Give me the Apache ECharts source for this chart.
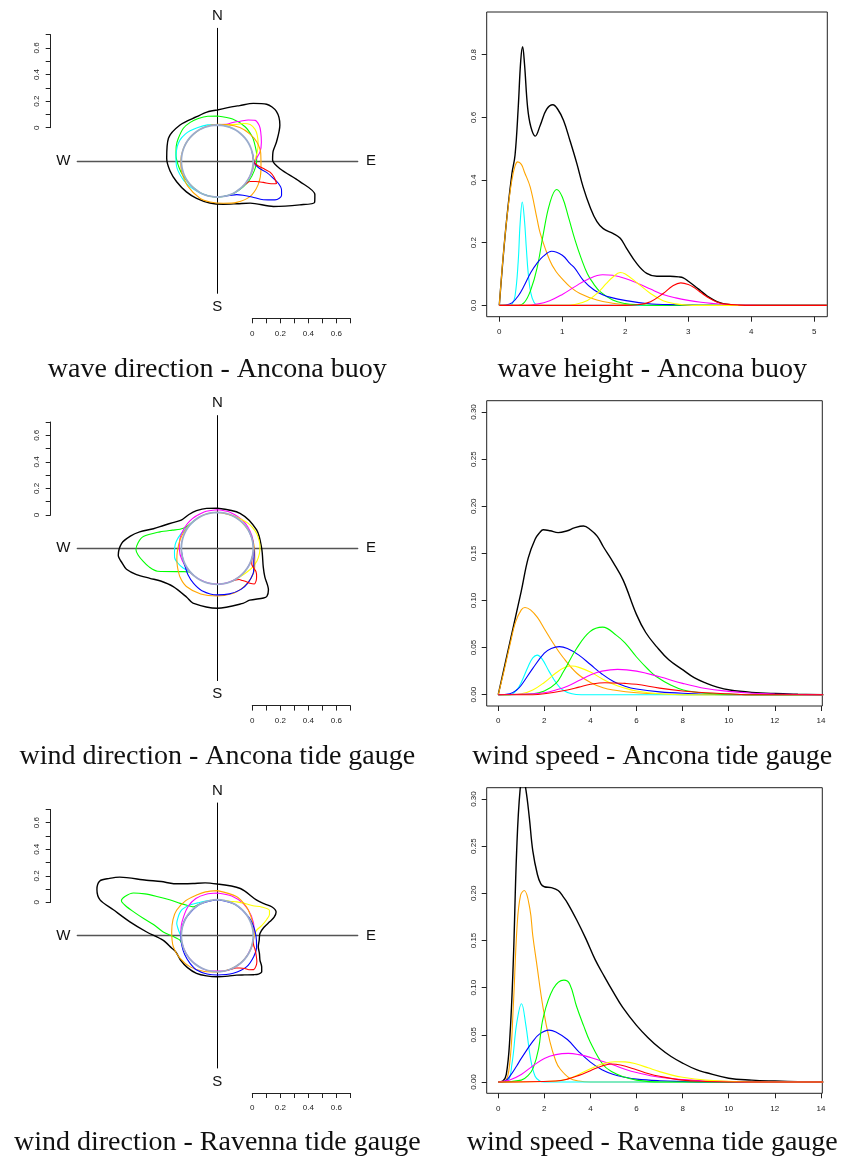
<!DOCTYPE html>
<html>
<head>
<meta charset="utf-8">
<script src="https://cdn.jsdelivr.net/npm/echarts@6.0.0/dist/echarts.min.js"></script>
<style>
  html, body { margin: 0; padding: 0; background: #fff; }
  #chart { width: 846px; height: 1160px; }
</style>
</head>
<body>
<div id="chart"></div>
<script>
// ---- tick values / labels ----
const heightTicks = [0, 1, 2, 3, 4, 5]
const speedTicks = [0, 2, 4, 6, 8, 10, 12, 14]
const heightDensityTicks = [0, 0.2, 0.4, 0.6, 0.8]
const speedDensityTicks = [0, 0.05, 0.1, 0.15, 0.2, 0.25, 0.3]
const scaleBarTicks = [0, 0.1, 0.2, 0.3, 0.4, 0.5, 0.6, 0.7]
const scaleBarLabels = [0, 0.2, 0.4, 0.6]
const compassLabels = ['N', 'E', 'S', 'W']
const leftTitles = ['wave direction - Ancona buoy', 'wind direction - Ancona tide gauge', 'wind direction - Ravenna tide gauge']
const rightTitles = ['wave height - Ancona buoy', 'wind speed - Ancona tide gauge', 'wind speed - Ravenna tide gauge']

// ---- wave height, Ancona buoy: [height, density] ----
const heightBlack = [[0,0],[0.1,0.24],[0.2,0.42],[0.25,0.48],[0.3,0.63],[0.34,0.78],[0.37,0.825],[0.4,0.77],[0.45,0.63],[0.5,0.57],[0.57,0.54],[0.65,0.575],[0.75,0.625],[0.85,0.64],[0.93,0.625],[1.02,0.59],[1.12,0.527],[1.23,0.453],[1.33,0.378],[1.44,0.314],[1.55,0.267],[1.65,0.245],[1.81,0.229],[1.92,0.214],[2.02,0.182],[2.18,0.134],[2.34,0.102],[2.5,0.093],[2.71,0.093],[2.85,0.091],[2.92,0.088],[3.0,0.077],[3.1,0.062],[3.2,0.046],[3.3,0.03],[3.4,0.018],[3.5,0.009],[3.6,0.004],[3.8,0.001],[4.0,0],[5.2,0]]
const heightOrange = [[0,0],[0.05,0.13],[0.1,0.24],[0.15,0.33],[0.2,0.4],[0.25,0.445],[0.29,0.458],[0.35,0.45],[0.4,0.425],[0.49,0.378],[0.6,0.275],[0.65,0.23],[0.8,0.144],[0.9,0.108],[1.02,0.08],[1.12,0.06],[1.28,0.038],[1.55,0.017],[1.8,0.007],[2.0,0.003],[2.4,0],[5.2,0]]
const heightCyan = [[0,0],[0.15,0],[0.2,0.003],[0.25,0.03],[0.3,0.14],[0.33,0.26],[0.365,0.33],[0.4,0.27],[0.43,0.18],[0.46,0.1],[0.5,0.04],[0.55,0.01],[0.6,0.002],[0.7,0],[5.2,0]]
const heightGreen = [[0,0],[0.3,0],[0.4,0.01],[0.5,0.05],[0.6,0.12],[0.7,0.23],[0.8,0.325],[0.91,0.37],[1.0,0.346],[1.1,0.28],[1.2,0.21],[1.3,0.15],[1.4,0.1],[1.5,0.068],[1.6,0.044],[1.8,0.017],[2.0,0.006],[2.2,0.002],[2.5,0],[5.2,0]]
const heightBlue = [[0,0],[0.1,0.001],[0.2,0.008],[0.3,0.03],[0.4,0.065],[0.5,0.105],[0.6,0.135],[0.7,0.157],[0.83,0.173],[1.0,0.16],[1.12,0.134],[1.2,0.118],[1.33,0.081],[1.5,0.05],[1.65,0.033],[1.8,0.024],[1.97,0.017],[2.34,0.006],[2.8,0.002],[3.5,0],[5.2,0]]
const heightMagenta = [[0,0],[0.4,0],[0.6,0.004],[0.8,0.015],[1.0,0.035],[1.2,0.06],[1.4,0.083],[1.64,0.098],[1.8,0.096],[2.0,0.086],[2.2,0.07],[2.4,0.052],[2.6,0.035],[2.8,0.024],[3.0,0.016],[3.2,0.01],[3.4,0.006],[3.6,0.003],[4.0,0.001],[4.5,0],[5.2,0]]
const heightYellow = [[0,0],[1.0,0],[1.2,0.003],[1.4,0.016],[1.55,0.038],[1.7,0.07],[1.8,0.09],[1.92,0.105],[2.0,0.1],[2.2,0.07],[2.4,0.038],[2.6,0.015],[2.8,0.005],[3.0,0.001],[3.3,0],[5.2,0]]
const heightRed = [[0,0],[2.0,0],[2.2,0.002],[2.4,0.012],[2.6,0.038],[2.75,0.062],[2.88,0.072],[3.0,0.067],[3.1,0.056],[3.2,0.041],[3.3,0.027],[3.4,0.016],[3.5,0.008],[3.6,0.004],[3.8,0.001],[4.0,0],[5.2,0]]

// ---- wind speed, Ancona tide gauge ----
const speedAnBlack = [[0,0],[0.5,0.055],[1.0,0.11],[1.3,0.145],[1.6,0.165],[1.8,0.172],[1.95,0.175],[2.25,0.174],[2.6,0.172],[3.0,0.174],[3.3,0.177],[3.7,0.179],[4.0,0.175],[4.3,0.168],[4.56,0.157],[5.0,0.14],[5.42,0.1216],[6.0,0.085],[6.4,0.066],[6.87,0.051],[7.4,0.037],[8.03,0.026],[8.5,0.018],[9.04,0.012],[9.5,0.008],[10.05,0.005],[11,0.0025],[12,0.0012],[13,0.0005],[14.1,0]]
const speedAnOrange = [[0,0],[0.25,0.025],[0.5,0.052],[0.75,0.077],[1.0,0.09],[1.16,0.0926],[1.4,0.09],[1.7,0.082],[2.0,0.07],[2.4,0.054],[2.8,0.04],[3.4,0.023],[4.0,0.013],[4.55,0.0074],[5.0,0.005],[6.0,0.002],[7.0,0.0008],[8.0,0],[14.1,0]]
const speedAnCyan = [[0,0],[0.5,0],[0.8,0.005],[1.0,0.013],[1.3,0.03],[1.5,0.039],[1.69,0.042],[1.9,0.038],[2.2,0.025],[2.5,0.013],[2.8,0.005],[3.2,0.001],[3.6,0],[14.1,0]]
const speedAnBlue = [[0,0],[0.5,0.001],[0.8,0.005],[1.0,0.01],[1.5,0.028],[2.0,0.044],[2.3,0.049],[2.65,0.051],[3.0,0.049],[3.5,0.042],[4.0,0.032],[4.5,0.022],[5.0,0.014],[5.5,0.009],[6.0,0.006],[7.0,0.003],[8.0,0.0015],[10,0],[14.1,0]]
const speedAnYellow = [[0,0],[1.0,0.001],[1.5,0.005],[2.0,0.013],[2.5,0.023],[2.9,0.029],[3.2,0.0304],[3.5,0.029],[4.0,0.024],[4.5,0.017],[5.0,0.011],[5.5,0.007],[6.0,0.004],[7.0,0.001],[8.0,0],[14.1,0]]
const speedAnGreen = [[0,0],[1.5,0.001],[2.0,0.004],[2.5,0.012],[2.82,0.024],[3.4,0.049],[3.98,0.067],[4.53,0.0717],[5.13,0.063],[5.5,0.055],[6.0,0.04],[6.5,0.027],[6.87,0.019],[7.5,0.01],[8.03,0.005],[9.0,0.0015],[10,0.0004],[11,0],[14.1,0]]
const speedAnMagenta = [[0,0],[1.5,0.001],[2.0,0.002],[2.5,0.005],[3.0,0.009],[3.5,0.015],[4.0,0.021],[4.5,0.025],[5.18,0.0269],[6.0,0.025],[7.0,0.019],[8.0,0.012],[9.0,0.0065],[10,0.0035],[11,0.0015],[12,0.0007],[13,0.0002],[14.1,0]]
const speedAnRed = [[0,0],[1.5,0],[2.0,0.001],[3.0,0.005],[3.5,0.008],[4.0,0.011],[4.63,0.0127],[5.5,0.012],[6.0,0.011],[7.0,0.007],[8.0,0.004],[9.0,0.002],[10,0.001],[11,0],[14.1,0]]

// ---- wind speed, Ravenna tide gauge ----
const speedRaBlack = [[0,0],[0.2,0.001],[0.35,0.008],[0.5,0.045],[0.65,0.125],[0.8,0.245],[0.95,0.31],[1.08,0.322],[1.2,0.31],[1.35,0.28],[1.5,0.245],[1.7,0.22],[1.85,0.21],[2.0,0.207],[2.3,0.206],[2.6,0.203],[2.8,0.197],[3.0,0.19],[3.4,0.172],[3.8,0.152],[4.2,0.13],[4.6,0.112],[5.0,0.095],[5.4,0.079],[6.0,0.06],[6.5,0.047],[7.0,0.036],[7.5,0.027],[8.0,0.02],[8.6,0.013],[9.0,0.01],[10,0.004],[11,0.002],[12,0.001],[13,0.0003],[14.1,0]]
const speedRaOrange = [[0,0],[0.3,0.001],[0.5,0.02],[0.65,0.078],[0.82,0.166],[0.97,0.198],[1.13,0.203],[1.37,0.184],[1.5,0.155],[1.66,0.127],[1.95,0.078],[2.24,0.043],[2.5,0.022],[2.68,0.014],[3.1,0.004],[3.5,0.001],[4.0,0],[14.1,0]]
const speedRaCyan = [[0,0],[0.4,0.001],[0.6,0.02],[0.8,0.062],[1.01,0.083],[1.2,0.06],[1.4,0.025],[1.6,0.006],[1.8,0.001],[2.0,0],[14.1,0]]
const speedRaBlue = [[0,0],[0.3,0.001],[0.5,0.006],[0.8,0.017],[1.0,0.025],[1.5,0.043],[1.8,0.051],[2.2,0.055],[2.5,0.053],[3.0,0.045],[3.5,0.032],[4.0,0.021],[4.5,0.013],[5.0,0.008],[5.5,0.005],[6.0,0.003],[7.0,0.0013],[8.0,0.0005],[9,0],[14.1,0]]
const speedRaGreen = [[0,0],[1.0,0.002],[1.3,0.007],[1.52,0.015],[1.75,0.035],[1.95,0.068],[2.39,0.099],[2.85,0.108],[3.1,0.104],[3.4,0.08],[3.7,0.06],[3.98,0.043],[4.56,0.018],[5.0,0.01],[5.42,0.0056],[6.0,0.002],[7.0,0],[14.1,0]]
const speedRaMagenta = [[0,0],[0.3,0.001],[0.5,0.002],[1.0,0.008],[1.5,0.017],[2.0,0.025],[2.5,0.029],[3.04,0.0303],[3.5,0.029],[4.0,0.026],[4.5,0.022],[5.0,0.018],[5.5,0.0135],[6.0,0.01],[7.0,0.005],[8.0,0.0025],[9.0,0.0012],[10,0.0005],[11,0],[14.1,0]]
const speedRaYellow = [[0,0],[2.5,0.001],[3.0,0.003],[3.5,0.008],[4.0,0.014],[4.5,0.019],[5.06,0.0215],[5.5,0.0213],[6.0,0.019],[6.5,0.015],[7.0,0.011],[7.5,0.0075],[8.0,0.005],[9.0,0.002],[10,0.0007],[11,0],[14.1,0]]
const speedRaRed = [[0,0],[2.5,0.001],[3.0,0.003],[3.5,0.007],[4.0,0.012],[4.5,0.017],[4.9,0.019],[5.3,0.018],[6.0,0.013],[6.5,0.009],[7.0,0.006],[8.0,0.002],[9,0.0005],[10,0],[14.1,0]]

// ---- wave direction, Ancona buoy: [compass angle (deg), density] ----
const waveDirBlack = [[0,0.107],[16,0.147],[22,0.17],[32,0.228],[41,0.28],[50,0.294],[60,0.259],[72,0.188],[80,0.148],[89,0.138],[97,0.194],[104,0.351],[109,0.48],[113,0.498],[118,0.41],[129,0.259],[142,0.125],[155,0.08],[172,0.055],[190,0.048],[209,0.048],[225,0.055],[243,0.069],[258,0.088],[273,0.105],[295,0.128],[314,0.113],[335,0.092],[348,0.1],[360,0.107]]
const waveDirGreen = [[0,0.064],[20,0.062],[39,0.058],[55,0.047],[67,0.035],[80,0.028],[90,0.024],[105,0.016],[121,0.01],[135,0.005],[150,0.002],[165,0],[180,0],[195,0],[210,0],[230,0],[245,0.008],[260,0.02],[278,0.041],[290,0.055],[300,0.065],[314,0.08],[325,0.08],[336,0.076],[348,0.07],[360,0.064]]
const waveDirCyan = [[195,0],[210,0.002],[225,0.01],[240,0.02],[260,0.035],[276,0.04],[290,0.047],[300,0.049],[310,0.042],[318,0.033],[330,0.02],[345,0.01],[360,0.004],[15,0.001],[30,0]]
const waveDirMagenta = [[350,0],[0,0.003],[14,0.013],[22,0.04],[30,0.071],[37,0.11],[43,0.14],[50,0.135],[56,0.117],[67,0.085],[78,0.055],[90,0.012],[100,0.005],[110,0.002],[125,0]]
const waveDirYellow = [[350,0],[0,0.002],[15,0.012],[28,0.039],[35,0.07],[42,0.094],[50,0.095],[57,0.083],[67,0.06],[77,0.036],[90,0.01],[100,0.003],[110,0]]
const waveDirOrange = [[0,0.005],[15,0.012],[34,0.031],[50,0.045],[64,0.056],[80,0.058],[100,0.06],[120,0.08],[138,0.088],[155,0.069],[172,0.048],[190,0.04],[205,0.037],[230,0.02],[253,0.009],[270,0.004],[290,0.001],[310,0],[330,0],[345,0.002],[360,0.005]]
const waveDirBlue = [[75,0],[90,0.005],[95,0.015],[100,0.05],[103,0.104],[107,0.16],[110,0.207],[114,0.245],[118,0.263],[121,0.26],[124,0.24],[130,0.173],[136,0.1],[143,0.049],[150,0.02],[160,0.005],[170,0]]
const waveDirRed = [[80,0],[90,0.003],[96,0.03],[100,0.09],[102,0.128],[106,0.165],[111,0.196],[113,0.16],[115,0.105],[118,0.055],[122,0.019],[128,0.005],[135,0]]

// ---- wind direction, Ancona tide gauge ----
const windAnBlack = [[0,0.029],[33,0.041],[65,0.053],[90,0.06],[112,0.097],[121,0.139],[129,0.213],[134,0.236],[137,0.228],[148,0.18],[155,0.177],[180,0.171],[204,0.171],[212,0.155],[229,0.16],[240,0.21],[246,0.27],[252,0.35],[257,0.409],[261,0.43],[266,0.452],[273,0.427],[278,0.37],[282,0.31],[287,0.22],[293,0.16],[300,0.11],[308,0.07],[320,0.058],[331,0.05],[345,0.038],[360,0.029]]
const windAnGreen = [[220,0],[230,0.006],[235,0.033],[240,0.076],[249,0.2],[255,0.25],[260,0.28],[265,0.31],[269,0.324],[274,0.31],[279,0.278],[286,0.169],[292,0.09],[297,0.042],[305,0.012],[315,0.002],[325,0]]
const windAnCyan = [[230,0],[240,0.025],[250,0.045],[258,0.055],[265,0.05],[275,0.045],[283,0.035],[290,0.025],[298,0.012],[305,0.005],[320,0]]
const windAnMagenta = [[0,0.018],[20,0.016],[45,0.012],[70,0.006],[90,0.003],[110,0.001],[135,0],[160,0],[180,0],[200,0],[225,0.002],[250,0.008],[270,0.015],[290,0.019],[315,0.02],[340,0.019],[360,0.018]]
const windAnYellow = [[10,0],[30,0.005],[40,0.012],[50,0.025],[60,0.036],[70,0.044],[80,0.047],[88,0.048],[98,0.046],[108,0.04],[120,0.026],[128,0.015],[135,0.008],[145,0.002],[155,0]]
const windAnOrange = [[0,0],[30,0],[60,0],[80,0.004],[90,0.008],[103,0.018],[118,0.045],[134,0.068],[147,0.078],[160,0.084],[180,0.083],[200,0.09],[219,0.094],[232,0.08],[245,0.057],[255,0.042],[265,0.03],[283,0.016],[297,0.008],[310,0.003],[330,0],[345,0],[360,0]]
const windAnBlue = [[60,0],[75,0.001],[90,0.003],[100,0.01],[110,0.02],[118,0.038],[125,0.056],[138,0.073],[150,0.082],[165,0.08],[180,0.076],[200,0.065],[214,0.046],[228,0.025],[240,0.008],[250,0.002],[265,0]]
const windAnRed = [[100,0],[110,0.005],[115,0.015],[121,0.065],[126,0.09],[130,0.105],[134,0.11],[137,0.085],[139,0.06],[142,0.035],[145,0.015],[150,0.004],[158,0]]

// ---- wind direction, Ravenna tide gauge ----
const windRaBlack = [[0,0.112],[26,0.118],[48,0.122],[56,0.15],[62,0.183],[68,0.196],[72,0.17],[75,0.132],[80,0.08],[87,0.048],[96,0.044],[105,0.046],[113,0.07],[120,0.095],[125,0.13],[129,0.151],[133,0.145],[137,0.124],[145,0.085],[154,0.056],[165,0.042],[180,0.036],[195,0.04],[209,0.05],[223,0.055],[237,0.058],[248,0.06],[255,0.081],[265,0.13],[273,0.248],[279,0.375],[284,0.508],[287,0.619],[291,0.664],[295,0.669],[298,0.615],[301,0.556],[308,0.386],[314,0.3],[320,0.228],[327,0.185],[335,0.154],[347,0.13],[360,0.112]]
const windRaGreen = [[250,0],[258,0.003],[263,0.011],[266,0.03],[269,0.057],[274,0.13],[280,0.206],[283,0.28],[286,0.367],[288,0.43],[290,0.472],[293,0.46],[297,0.415],[300,0.34],[303,0.258],[307,0.17],[311,0.095],[315,0.05],[320,0.012],[328,0.003],[335,0]]
const windRaCyan = [[262,0],[270,0.005],[277,0.02],[283,0.036],[287,0.046],[295,0.052],[300,0.056],[306,0.057],[312,0.048],[318,0.037],[323,0.027],[332,0.012],[340,0.005],[350,0]]
const windRaMagenta = [[0,0.048],[20,0.045],[40,0.038],[60,0.024],[80,0.01],[95,0.003],[110,0],[130,0],[150,0],[170,0],[190,0],[210,0],[230,0],[250,0],[270,0.003],[285,0.01],[300,0.02],[315,0.038],[330,0.05],[345,0.05],[360,0.048]]
const windRaYellow = [[10,0],[20,0.005],[30,0.022],[40,0.045],[50,0.076],[57,0.12],[64,0.157],[68,0.145],[72,0.113],[77,0.07],[82,0.027],[88,0.01],[95,0.002],[105,0]]
const windRaOrange = [[0,0.065],[26,0.054],[45,0.036],[60,0.02],[75,0.01],[90,0.005],[105,0.002],[120,0],[140,0],[160,0],[180,0.002],[200,0.015],[221,0.038],[240,0.055],[256,0.067],[275,0.07],[290,0.08],[302,0.086],[318,0.08],[333,0.069],[345,0.067],[360,0.065]]
const windRaBlue = [[0,0],[30,0],[60,0.004],[75,0.01],[90,0.019],[106,0.035],[120,0.043],[137,0.048],[157,0.035],[180,0.024],[195,0.026],[211,0.029],[225,0.02],[240,0.012],[255,0.006],[270,0.003],[285,0.001],[300,0],[330,0],[360,0]]
const windRaRed = [[95,0],[105,0.012],[110,0.03],[117,0.055],[123,0.08],[128,0.094],[133,0.098],[137,0.075],[140,0.049],[145,0.025],[150,0.01],[158,0.002],[165,0]]

// zero-density reference circle
const baseCircleAngles = [0,10,20,30,40,50,60,70,80,90,100,110,120,130,140,150,160,170,180,190,200,210,220,230,240,250,260,270,280,290,300,310,320,330,340,350,360]

const COLORS = {
  black: '#000000', orange: '#FFA500', cyan: '#00FFFF', green: '#00FF00',
  blue: '#0000FF', magenta: '#FF00FF', yellow: '#FFFF00', red: '#FF0000'
}

const rightPanels = [
  {
    top: 12, height: 304.7, width: 340.6,
    xMin: -0.2, xMax: 5.206, yMin: -0.036, yMax: 0.936,
    xTicks: heightTicks, yTicks: heightDensityTicks, yDigits: 1,
    curves: [[heightBlack, 'black'], [heightOrange, 'orange'], [heightCyan, 'cyan'], [heightGreen, 'green'],
      [heightBlue, 'blue'], [heightMagenta, 'magenta'], [heightYellow, 'yellow'], [heightRed, 'red']]
  },
  {
    top: 400.7, height: 305.3, width: 335.6,
    xMin: -0.5, xMax: 14.06, yMin: -0.012, yMax: 0.312,
    xTicks: speedTicks, yTicks: speedDensityTicks, yDigits: 2,
    curves: [[speedAnBlack, 'black'], [speedAnOrange, 'orange'], [speedAnCyan, 'cyan'], [speedAnBlue, 'blue'],
      [speedAnYellow, 'yellow'], [speedAnGreen, 'green'], [speedAnMagenta, 'magenta'], [speedAnRed, 'red']]
  },
  {
    top: 787.7, height: 305.6, width: 335.6,
    xMin: -0.5, xMax: 14.06, yMin: -0.012, yMax: 0.312,
    xTicks: speedTicks, yTicks: speedDensityTicks, yDigits: 2,
    curves: [[speedRaBlack, 'black'], [speedRaOrange, 'orange'], [speedRaCyan, 'cyan'], [speedRaBlue, 'blue'],
      [speedRaGreen, 'green'], [speedRaMagenta, 'magenta'], [speedRaYellow, 'yellow'], [speedRaRed, 'red']]
  }
]

const leftPanels = [
  {
    cy: 161,
    curves: [[waveDirBlack, 'black'], [waveDirGreen, 'green'], [waveDirCyan, 'cyan'], [waveDirMagenta, 'magenta'],
      [waveDirYellow, 'yellow'], [waveDirOrange, 'orange'], [waveDirBlue, 'blue'], [waveDirRed, 'red']]
  },
  {
    cy: 548.3,
    curves: [[windAnBlack, 'black'], [windAnGreen, 'green'], [windAnCyan, 'cyan'], [windAnMagenta, 'magenta'],
      [windAnYellow, 'yellow'], [windAnOrange, 'orange'], [windAnBlue, 'blue'], [windAnRed, 'red']]
  },
  {
    cy: 935.7,
    curves: [[windRaBlack, 'black'], [windRaGreen, 'green'], [windRaCyan, 'cyan'], [windRaMagenta, 'magenta'],
      [windRaYellow, 'yellow'], [windRaOrange, 'orange'], [windRaBlue, 'blue'], [windRaRed, 'red']]
  }
]

const CX = 217.3          // centre of the circular plots
const POLAR_R = 140       // px per unit of density
const BASE_R = 0.257      // radius of the zero circle, in density units
const SANS = '"Liberation Sans", Arial, sans-serif'
const SERIF = '"Liberation Serif", "Times New Roman", serif'
const TITLE_Y = [370, 756.5, 1143]

const chart = echarts.init(document.getElementById('chart'), null, { renderer: 'canvas' })

const grid = []
const xAxis = []
const yAxis = []
const polar = []
const radiusAxis = []
const angleAxis = []
const series = []
const graphic = []

const tickLabel = { fontSize: 8, color: '#222', fontFamily: SANS }
const lineFor = (name) => ({ color: COLORS[name], width: name === 'black' ? 1.4 : 1.1 })
const centered = (text, font) => ({ text, font, fill: '#111',
  align: 'center', verticalAlign: 'middle', textAlign: 'center', textVerticalAlign: 'middle' })

// right column: density of the linear variable
rightPanels.forEach((p, i) => {
  const g = grid.length
  grid.push({ left: 486.7, top: p.top, width: p.width, height: p.height, show: true,
    borderColor: '#222', borderWidth: 1, backgroundColor: 'transparent' })
  xAxis.push({
    gridIndex: g, type: 'value', min: p.xMin, max: p.xMax, position: 'bottom',
    axisLine: { show: false, onZero: false },
    axisTick: { show: true, length: 5, customValues: p.xTicks, lineStyle: { color: '#222' } },
    axisLabel: { ...tickLabel, margin: 11, customValues: p.xTicks },
    splitLine: { show: false }
  })
  yAxis.push({
    gridIndex: g, type: 'value', min: p.yMin, max: p.yMax, position: 'left',
    axisLine: { show: false, onZero: false },
    axisTick: { show: true, length: 5, customValues: p.yTicks, lineStyle: { color: '#222' } },
    axisLabel: { ...tickLabel, margin: 9, rotate: 90, customValues: p.yTicks,
      formatter: (v) => Number(v).toFixed(p.yDigits) },
    splitLine: { show: false }
  })
  p.curves.forEach(([data, name]) => {
    series.push({
      type: 'line', xAxisIndex: g, yAxisIndex: g, data,
      smooth: 0.4, symbol: 'none', silent: true,
      lineStyle: lineFor(name), z: name === 'black' ? 2 : 3
    })
  })
  graphic.push({ type: 'text', x: 652.3, y: TITLE_Y[i], style: centered(rightTitles[i], '28px ' + SERIF) })
})

// left column: circular densities
leftPanels.forEach((p, i) => {
  const cy = p.cy

  // vertical scale bar
  let g = grid.length
  grid.push({ left: 50.7, top: cy - 126.3, width: 10, height: 93 })
  xAxis.push({ gridIndex: g, type: 'value', show: false })
  yAxis.push({
    gridIndex: g, type: 'value', min: 0, max: 0.7, position: 'left',
    axisLine: { show: true, onZero: false, lineStyle: { color: '#222' } },
    axisTick: { show: true, length: 5, customValues: scaleBarTicks, lineStyle: { color: '#222' } },
    axisLabel: { ...tickLabel, margin: 10, rotate: 90, customValues: scaleBarLabels },
    splitLine: { show: false }
  })

  // horizontal scale bar
  g = grid.length
  grid.push({ left: 252.3, top: cy + 147.3, width: 98, height: 10 })
  xAxis.push({
    gridIndex: g, type: 'value', min: 0, max: 0.7, position: 'bottom',
    axisLine: { show: true, onZero: false, lineStyle: { color: '#222' } },
    axisTick: { show: true, length: 5, customValues: scaleBarTicks, lineStyle: { color: '#222' } },
    axisLabel: { ...tickLabel, margin: 11, customValues: scaleBarLabels },
    splitLine: { show: false }
  })
  yAxis.push({ gridIndex: g, type: 'value', show: false })

  // compass cross
  g = grid.length
  grid.push({ left: 77.3, width: 280.4, top: cy - 132.7, height: 265 })
  xAxis.push({ gridIndex: g, type: 'value', min: -1, max: 1,
    axisLine: { show: true, onZero: true, lineStyle: { color: '#555', width: 1.3 } },
    axisTick: { show: false }, axisLabel: { show: false }, splitLine: { show: false } })
  yAxis.push({ gridIndex: g, type: 'value', min: -1, max: 1,
    axisLine: { show: true, onZero: true, lineStyle: { color: '#000', width: 1 } },
    axisTick: { show: false }, axisLabel: { show: false }, splitLine: { show: false } })

  // polar system for the densities
  polar.push({ center: [CX, cy], radius: POLAR_R })
  radiusAxis.push({ polarIndex: i, type: 'value', min: -BASE_R, max: 1 - BASE_R, show: false })
  angleAxis.push({ polarIndex: i, type: 'value', min: 0, max: 360, startAngle: 90, clockwise: true, show: false })

  p.curves.forEach(([data, name]) => {
    series.push({
      type: 'line', coordinateSystem: 'polar', polarIndex: i,
      data: data.map(([a, d]) => [d, a]),
      smooth: 0.3, symbol: 'none', silent: true, lineStyle: lineFor(name), z: 3
    })
  })
  series.push({
    type: 'line', coordinateSystem: 'polar', polarIndex: i,
    data: baseCircleAngles.map((a) => [0, a]),
    smooth: 0.3, symbol: 'none', silent: true,
    lineStyle: { color: '#9aaccc', width: 1.8 }, z: 4
  })

  // compass letters
  const offsets = [[0, -145], [153.7, 0], [0, 145.7], [-154, 0]]
  compassLabels.forEach((t, k) => {
    graphic.push({ type: 'text', x: CX + offsets[k][0], y: cy + offsets[k][1], style: centered(t, '15px ' + SANS) })
  })

  graphic.push({ type: 'text', x: CX, y: TITLE_Y[i], style: centered(leftTitles[i], '28px ' + SERIF) })
})

chart.setOption({
  animation: false,
  backgroundColor: '#fff',
  grid, xAxis, yAxis, polar, radiusAxis, angleAxis, series, graphic
})
</script>
</body>
</html>
